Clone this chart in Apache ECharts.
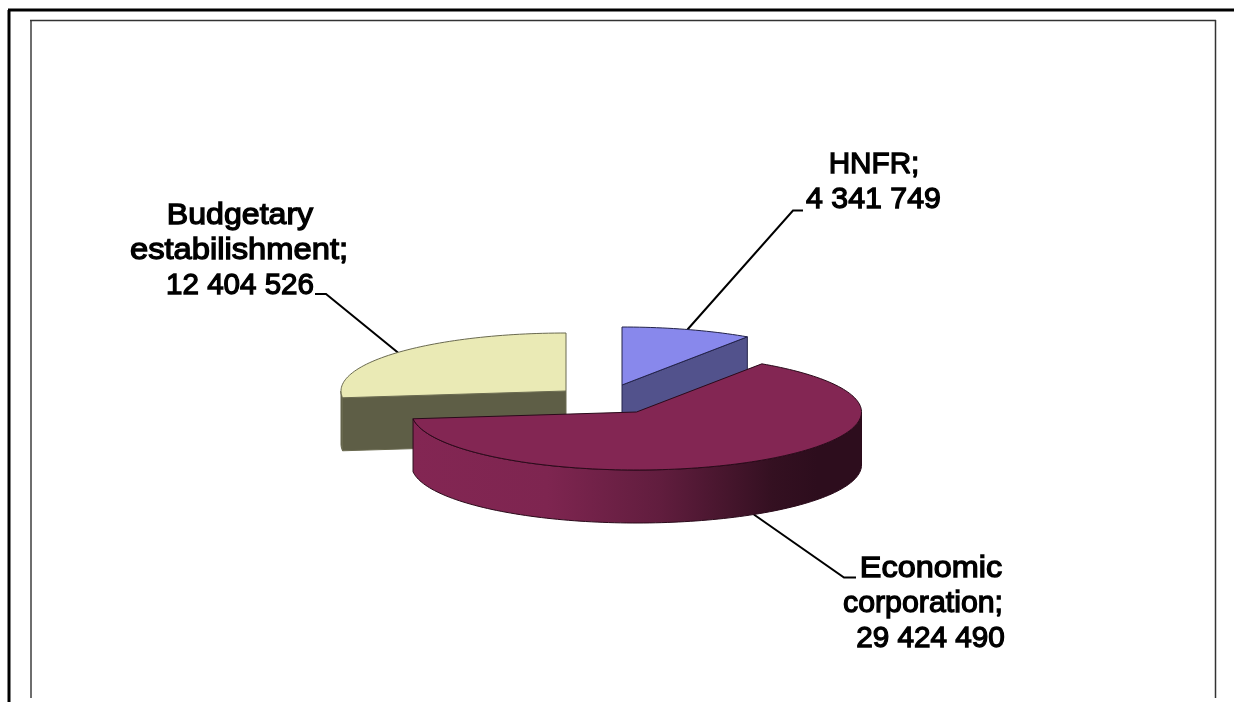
<!DOCTYPE html>
<html>
<head>
<meta charset="utf-8">
<style>html,body{margin:0;padding:0;background:#fff}#c{width:1234px;height:702px}</style>
<script src="https://cdn.jsdelivr.net/npm/echarts@6/dist/echarts.min.js"></script>
</head>
<body>
<div id="c"></div>
<script>
// Data
const categories = ['HNFR', 'Economic corporation', 'Budgetary estabilishment'];
const values = [4341749, 29424490, 12404526];
const labelLines = [['HNFR;'], ['Economic', 'corporation;'], ['Budgetary', 'estabilishment;']];

// Styles and layout
const RX = 225, RY = 58, DEPTH = 53;
const centers = [[622, 385], [636.5, 412], [566, 391]];
const paintOrder = [2, 3, 1];
const topColors = ['#8888EC', '#832653', '#EAEAB5'];
const sideColors = ['#52528C', null, '#5E5E46'];
const edgeColors = ['#23234A', '#2A0A1A', '#6a6a50'];
const lineCenters = [[874, 873.5], [931, 923, 930.5], [240, 239, 240]];
const lineBaselines = [[175, 210], [579, 614, 649], [226, 261, 296]];
const lineStretch = [[0.99, 1.01], [1.08, 1.01, 0.99], [1.07, 1.09, 0.985]];
const elbows = [[[803, 210.5], [793, 210.5]], [[856, 577.5], [844, 577.5]], [[315, 294], [326, 294]]];
const FONT_PX = 30;

const total = values.reduce((a, b) => a + b, 0);
const fmt = v => String(v).replace(/\B(?=(\d{3})+$)/g, ' ');

function renderSlice(params, api) {
  const i = params.dataIndex;
  const v = api.value(0);
  let before = 0;
  for (let k = 0; k < i; k++) before += values[k];
  const a0 = before / total * 360, a1 = (before + v) / total * 360;
  const [cx, cy] = centers[i];
  const pt = (deg, dz) => {
    const r = deg * Math.PI / 180;
    return [cx + RX * Math.sin(r), cy - RY * Math.cos(r) + (dz || 0)];
  };
  const arc = (from, to, dz) => {
    const n = Math.max(2, Math.ceil(Math.abs(to - from) / 1.5));
    const out = [];
    for (let k = 0; k <= n; k++) out.push(pt(from + (to - from) * k / n, dz));
    return out;
  };
  const z = paintOrder[i] * 10;
  const edge = edgeColors[i];
  const kids = [];
  const poly = (points, fill, zz) => kids.push({
    type: 'polygon', shape: { points }, z2: zz,
    style: { fill, stroke: edge, lineWidth: 1, lineJoin: 'round' }
  });
  const sideFill = sideColors[i] || new echarts.graphic.LinearGradient(0, 0, 1, 0, [
    { offset: 0, color: '#832653' },
    { offset: 0.3, color: '#7E2550' },
    { offset: 0.55, color: '#611D3E' },
    { offset: 0.8, color: '#341021' },
    { offset: 0.9, color: '#2D0D1D' },
    { offset: 1, color: '#2D0D1D' }
  ]);
  // cut faces that look towards the viewer
  const sinD = d => Math.sin(d * Math.PI / 180);
  [a0, a1].forEach((a, idx) => {
    const visible = idx === 0 ? sinD(a) < -1e-6 : sinD(a) > 1e-6;
    if (visible) {
      const p = pt(a);
      poly([[cx, cy], p, [p[0], p[1] + DEPTH], [cx, cy + DEPTH]], sideColors[i] || '#7E2550', z);
    }
  });
  // outer wall, lower half of the ellipse only
  const s0 = Math.max(a0, 90), s1 = Math.min(a1, 270);
  if (s1 > s0) {
    poly(arc(s0, s1, 0).concat(arc(s1, s0, DEPTH)), sideFill, z + 1);
  }
  // top face
  poly([[cx, cy]].concat(arc(a0, a1, 0)), topColors[i], z + 2);

  // leader line and label
  const mid = (a0 + a1) / 2;
  const wallHit = mid > 90 && mid < 270 ? DEPTH : 0;
  const hit = pt(mid, wallHit);
  const [e0, e1] = elbows[i];
  kids.push({
    type: 'polyline', shape: { points: [e0, e1, hit] }, z2: 5,
    style: { fill: 'none', stroke: '#000', lineWidth: 2 }
  });
  labelLines[i].concat([fmt(v)]).forEach((line, n) => {
    kids.push({
      type: 'text', z2: 60,
      x: lineCenters[i][n], y: lineBaselines[i][n] - FONT_PX * 0.35,
      scaleX: lineStretch[i][n],
      style: {
        text: line, fill: '#000', stroke: '#000', lineWidth: 1.3,
        font: FONT_PX + 'px "Liberation Sans", Arial, sans-serif',
        align: 'center', verticalAlign: 'middle'
      }
    });
  });
  return { type: 'group', children: kids };
}

const chart = echarts.init(document.getElementById('c'), null, { renderer: 'canvas' });
chart.setOption({
  animation: false,
  backgroundColor: '#fff',
  series: [{
    type: 'custom',
    coordinateSystem: 'none',
    renderItem: renderSlice,
    silent: true,
    data: values.map((v, i) => ({ name: categories[i], value: [v] }))
  }],
  graphic: [
    { type: 'line', shape: { x1: 9, y1: 10, x2: 9, y2: 702 }, style: { stroke: '#000', lineWidth: 3 } },
    { type: 'line', shape: { x1: 8, y1: 10, x2: 1234, y2: 10 }, style: { stroke: '#000', lineWidth: 3 } },
    { type: 'line', shape: { x1: 31, y1: 20, x2: 31, y2: 698 }, style: { stroke: '#6e6e6e', lineWidth: 2 } },
    { type: 'line', shape: { x1: 30, y1: 20.5, x2: 1216, y2: 20.5 }, style: { stroke: '#333', lineWidth: 1.5 } },
    { type: 'line', shape: { x1: 1215.5, y1: 20, x2: 1215.5, y2: 698 }, style: { stroke: '#333', lineWidth: 1.5 } }
  ]
});
</script>
</body>
</html>
